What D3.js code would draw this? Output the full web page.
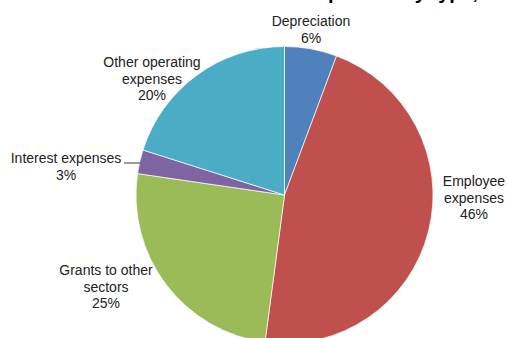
<!DOCTYPE html>
<html>
<head>
<meta charset="utf-8">
<script src="https://cdn.jsdelivr.net/npm/d3@7"></script>
<style>
  html, body { margin: 0; padding: 0; background: #fff; }
  svg { display: block; }
</style>
</head>
<body>
<script>
const categories = ["Depreciation", "Employee expenses", "Grants to other sectors", "Interest expenses", "Other operating expenses"];
const values = [5.7, 46.4, 25.2, 2.6, 20.1];
const pctLabels = ["6%", "46%", "25%", "3%", "20%"];
const labelLines = [["Depreciation"], ["Employee", "expenses"], ["Grants to other", "sectors"], ["Interest expenses"], ["Other operating", "expenses"]];
const colors = ["#4F81BD", "#C0504D", "#9BBB59", "#8064A2", "#4BACC6"];
const titleText = "Total expenses by type, 2013";

const W = 507, H = 338;
const cx = 284.5, cy = 195, R = 148.5;
// label centres (x, y of first line's visual centre)
const labelPos = [[311, 21], [474, 181], [106, 270], [66, 158], [152, 62]];
const lineH = 16.5;

const svg = d3.select("body").append("svg").attr("width", W).attr("height", H);

svg.append("text")
  .attr("x", 254).attr("y", -1)
  .attr("font-family", "Liberation Sans, Arial, sans-serif")
  .attr("font-size", 20).attr("font-weight", "bold")
  .attr("fill", "#000")
  .text(titleText);

const data = categories.map((c, i) => ({ name: c, value: values[i], color: colors[i], lines: labelLines[i], pct: pctLabels[i], pos: labelPos[i] }));

const pie = d3.pie().value(d => d.value).sort(null);
const arc = d3.arc().innerRadius(0).outerRadius(R);
const arcs = pie(data);

const g = svg.append("g").attr("transform", `translate(${cx},${cy})`);
g.selectAll("path").data(arcs).join("path")
  .attr("d", arc)
  .attr("fill", d => d.data.color)
  .attr("stroke", "#ffffff")
  .attr("stroke-width", 0.7);

// leader line for Interest expenses
const intArc = arcs[3];
const midA = (intArc.startAngle + intArc.endAngle) / 2;
const edgeX = cx + Math.sin(midA) * R * 0.995;
svg.append("line")
  .attr("x1", 124).attr("y1", 163)
  .attr("x2", edgeX).attr("y2", 163)
  .attr("stroke", "#595959").attr("stroke-width", 1.2);

const labels = svg.append("g")
  .attr("font-family", "Liberation Sans, Arial, sans-serif")
  .attr("font-size", 14)
  .attr("fill", "#222")
  .attr("text-anchor", "middle");

data.forEach(d => {
  const t = labels.append("text");
  const all = d.lines.concat([d.pct]);
  all.forEach((ln, k) => {
    t.append("tspan")
      .attr("x", d.pos[0])
      .attr("y", d.pos[1] + 5 + k * lineH)
      .text(ln);
  });
});
</script>
</body>
</html>
